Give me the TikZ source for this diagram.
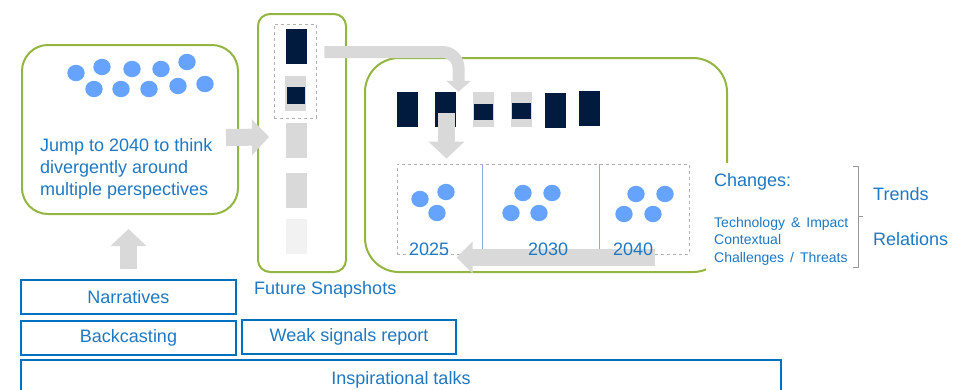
\documentclass[tikz,border=0pt]{standalone}
\usepackage{fontspec}
\setmainfont{Liberation Sans}
\usetikzlibrary{positioning, arrows.meta}

\definecolor{leafgreen}{RGB}{146,182,64}
\definecolor{txtblue}{RGB}{30,120,195}
\definecolor{boxblue}{RGB}{0,112,192}
\definecolor{dotblue}{RGB}{102,163,255}
\definecolor{navy}{RGB}{0,27,62}
\definecolor{barlight}{RGB}{217,217,217}
\definecolor{barpale}{RGB}{242,242,242}
\definecolor{divline}{RGB}{143,170,220}

\begin{document}
\begin{tikzpicture}[x=1pt, y=-1pt, font=\fontsize{18}{22}\selectfont, text=txtblue,
      greenbox/.style={draw=leafgreen, line width=2pt, inner sep=0pt},
      dashbox/.style={draw=black!30, dashed, line width=0.8pt, inner sep=0pt},
      bluebox/.style={draw=boxblue, line width=2pt, minimum height=34pt, inner sep=0pt},
      navybar/.style={fill=navy, minimum width=21pt, minimum height=35pt, inner sep=0pt},
      greybar/.style={fill=barlight, minimum width=21pt, minimum height=35pt, inner sep=0pt},
      bigarrow/.style={draw=barlight, line width=17pt, -{Triangle[width=35pt,length=17pt]}},
      bendarrow/.style={draw=barlight, line width=12pt, rounded corners=16pt,
        -{Triangle[width=24pt,length=11pt]}},
      divider/.style={draw=divline, line width=1pt},
      lbl/.style={anchor=west, inner sep=0pt}]
    \useasboundingbox (0,0) rectangle (966,389);
    \clip (0,0) rectangle (966,389);

    % jump to 2040
    \node[greenbox, rounded corners=26pt, minimum width=216pt, minimum height=169pt] (jump) at (130,129.5) {};
    \foreach \dx/\dy in {76/73, 102/67, 132/69, 161/69, 187/62, 94/89, 121/89, 149/89, 178/86, 205/84}
      \fill[dotblue] (\dx,\dy) circle[x radius=8.7pt, y radius=8.2pt];
    \node[lbl, align=left] (jumptxt) at (40,169) {Jump to 2040 to think\\divergently around\\multiple perspectives};

    % future snapshots
    \node[greenbox, rounded corners=12pt, minimum width=88pt, minimum height=258pt] (snap) at (302,143) {};
    \node[dashbox, minimum width=42pt, minimum height=94pt] (snapdash) at (295,71) {};
    \node[navybar] (s1) at (296.5,46.5) {};
    \node[greybar] (s2) at (295.5,93.5) {};
    \node[navybar, minimum width=18pt, minimum height=17pt] (s2in) at (296,95.5) {};
    \node[greybar] (s3) at (296,140) {};
    \node[greybar] (s4) at (296,190.5) {};
    \node[greybar, fill=barpale] (s5) at (296,236.5) {};
    \node[lbl] (snaplbl) at (254,290) {Future Snapshots};

    % scenario box
    \node[greenbox, rounded corners=34pt, minimum width=362pt, minimum height=214pt] (scen) at (546,165) {};
    \node[navybar] (b1) at (407.5,109.5) {};
    \node[navybar] (b2) at (445.5,109.5) {};
    \node[greybar] (b3) at (483.5,109.5) {};
    \node[navybar, minimum width=19pt, minimum height=16pt] (b3in) at (483.5,112) {};
    \node[greybar] (b4) at (521.5,109) {};
    \node[navybar, minimum width=19pt, minimum height=16pt] (b4in) at (521.5,111) {};
    \node[navybar] (b5) at (555,110) {};
    \node[navybar] (b6) at (589.5,108.5) {};

    % timeline
    \node[dashbox, minimum width=292pt, minimum height=90pt] (tl) at (543,209) {};
    \draw[divider] ([xshift=86pt]tl.north west) -- ([xshift=86pt]tl.south west);
    \draw[divider] ([xshift=203pt]tl.north west) -- ([xshift=203pt]tl.south west);
    \foreach \dx/\dy in {420/199, 446/192, 437/213, 523/193, 552/193, 511/213, 539/213,
        636/194, 665/194, 624/214, 653/214}
      \fill[dotblue] (\dx,\dy) circle[x radius=8.7pt, y radius=8.2pt];

    % arrows
    \draw[bigarrow] ([shift={(-13,8)}]jump.east) -- ([shift={(12,-6)}]snap.west);
    \draw[bendarrow] ([shift={(8,-19)}]snapdash.east) -| ([xshift=13pt]b2.north);
    \coordinate (tltop) at (b2.center |- tl.north);
    \draw[bigarrow] ([shift={(1,3.5)}]b2.center) -- ([shift={(1,-5)}]tltop);
    \draw[bigarrow, -{Triangle[width=31pt,length=16pt]}]
      ([shift={(-34,3)}]tl.south east) -- ([shift={(60,3)}]tl.south west);

    \node[lbl] (y25) at (409,249.5) {2025};
    \node[lbl] (y30) at (528,249.5) {2030};
    \node[lbl] (y40) at (613,249.5) {2040};

    % changes
    \node[fill=white, anchor=north west, align=left, inner xsep=8pt, inner ysep=9.5pt,
      text width=150pt, minimum height=112pt] (chg) at (706,163)
      {Changes:\\[23pt]{\fontsize{14}{17.5}\selectfont Technology \& Impact\\Contextual\\Challenges / Threats\par}};
    \draw[black!40, line width=1pt] (853,166) -| (858,267) -- (853,267);
    \draw[black!40, line width=1pt] (858,216) -- (863,216);
    \node[lbl] (trends) at (873,194) {Trends};
    \node[lbl] (rel) at (873,239) {Relations};

    % methods
    \node[bluebox, minimum width=215pt] (back) at (128.5,338) {Backcasting};
    \node[bluebox, minimum width=215pt, above=5pt of back] (narr) {Narratives};
    \node[bluebox, minimum width=214pt, right=4pt of back, yshift=1.5pt] (weak) {Weak signals report};
    \node[bluebox, minimum width=760pt, minimum height=40pt, below=3pt of back.south west,
      anchor=north west] (insp) {Inspirational talks};
    \coordinate (jumpfoot) at (narr.north |- jump.south);
    \draw[bigarrow] ([shift={(0,-10)}]narr.north) -- ([shift={(0,14)}]jumpfoot);
  \end{tikzpicture}
\end{document}
